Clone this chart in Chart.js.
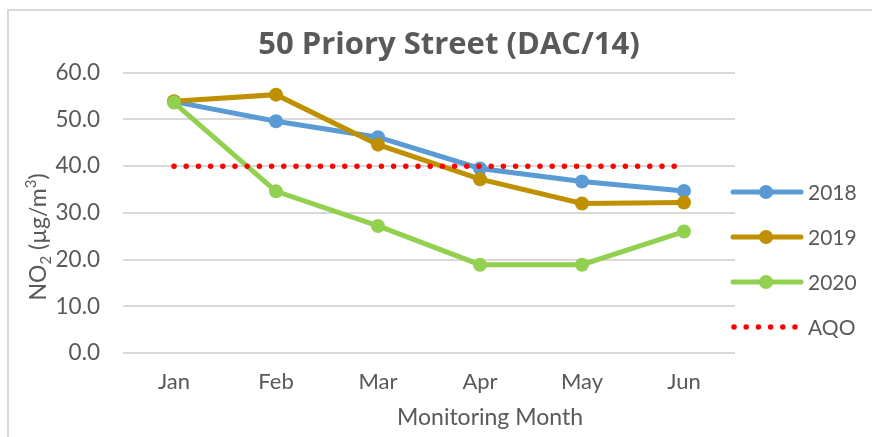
<!DOCTYPE html>
<html>
<head>
<meta charset="utf-8">
<script src="https://cdn.jsdelivr.net/npm/chart.js@4.4.0/dist/chart.umd.min.js"></script>
<style>
  html, body { margin: 0; padding: 0; background: #fff; overflow: hidden; }
  #frame { position: absolute; left: 7px; top: 9px; width: 900px; height: 500px;
           border-left: 2px solid #d9d9d9; border-top: 2px solid #d9d9d9; }
  #wrap { position: absolute; left: 0; top: 0; width: 872px; height: 437px; }
</style>
</head>
<body>
<div id="frame"></div>
<div id="wrap"><canvas id="lineChart" width="872" height="437"></canvas></div>
<script>
// Data
const months = ['Jan', 'Feb', 'Mar', 'Apr', 'May', 'Jun'];
const no2_2018 = [53.8, 49.6, 46.2, 39.5, 36.7, 34.7];
const no2_2019 = [53.9, 55.3, 44.6, 37.2, 32.0, 32.2];
const no2_2020 = [53.6, 34.6, 27.2, 18.9, 18.9, 26.0];
const aqo = [40, 40, 40, 40, 40, 40];
const yMin = 0, yMax = 60, yStep = 10;

const textColor = '#595959';
const gridColor = '#d9d9d9';
const fontName = 'Lato';

// Axis titles + legend drawn by hand (Excel style)
const extrasPlugin = {
    id: 'extras',
    afterDraw(chart) {
        const ctx = chart.ctx;
        ctx.save();
        ctx.fillStyle = textColor;

        // y axis title with sub / superscript
        ctx.translate(39, 237);
        ctx.rotate(-Math.PI / 2);
        const big = '23px ' + fontName, small = '15px ' + fontName;
        const parts = [['NO', big, 0], ['2', small, 7], [' (µg/m', big, 0], ['3', small, -8], [')', big, 0]];
        let total = 0;
        parts.forEach(p => { ctx.font = p[1]; total += ctx.measureText(p[0]).width; });
        let x = -total / 2;
        ctx.textBaseline = 'middle';
        parts.forEach(p => {
            ctx.font = p[1];
            ctx.fillText(p[0], x, p[2]);
            x += ctx.measureText(p[0]).width;
        });
        ctx.restore();

        // x axis title
        ctx.save();
        ctx.fillStyle = textColor;
        ctx.font = '23px ' + fontName;
        ctx.textAlign = 'center';
        ctx.textBaseline = 'middle';
        ctx.fillText('Monitoring Month', 490, 418);
        ctx.restore();

        // legend
        chart.data.datasets.forEach((ds, i) => {
            const y = 192 + i * 45;
            ctx.save();
            ctx.strokeStyle = ds.borderColor;
            ctx.lineWidth = ds.borderWidth;
            ctx.lineCap = 'round';
            if (ds.borderDash) ctx.setLineDash(ds.borderDash);
            ctx.beginPath();
            ctx.moveTo(ds.borderDash ? 734 : 733, y);
            ctx.lineTo(ds.borderDash ? 800 : 801, y);
            ctx.stroke();
            if (ds.pointRadius > 0) {
                ctx.fillStyle = ds.backgroundColor;
                ctx.beginPath();
                ctx.arc(766, y, ds.pointRadius, 0, Math.PI * 2);
                ctx.fill();
            }
            ctx.fillStyle = textColor;
            ctx.font = '21px ' + fontName;
            ctx.textBaseline = 'middle';
            ctx.fillText(ds.label, 808, y + 1);
            ctx.restore();
        });
    }
};

function series(label, data, color, order) {
    return {
        label: label,
        data: data,
        borderColor: color,
        backgroundColor: color,
        borderWidth: 5,
        pointRadius: 7,
        pointHoverRadius: 7,
        pointBorderWidth: 0,
        tension: 0,
        order: order
    };
}

const ctx = document.getElementById('lineChart').getContext('2d');
new Chart(ctx, {
    type: 'line',
    data: {
        labels: months,
        datasets: [
            series('2018', no2_2018, '#5b9bd5', 3),
            series('2019', no2_2019, '#bf9000', 2),
            series('2020', no2_2020, '#92d050', 1),
            {
                label: 'AQO',
                data: aqo,
                borderColor: '#ff0000',
                backgroundColor: '#ff0000',
                borderWidth: 5.5,
                borderDash: [0, 12.2],
                borderCapStyle: 'round',
                pointRadius: 0,
                order: 0
            }
        ]
    },
    options: {
        responsive: false,
        animation: false,
        layout: { padding: { left: 26, top: 0, right: 0, bottom: 0 } },
        plugins: {
            legend: { display: false },
            tooltip: { enabled: false },
            title: {
                display: true,
                text: '50 Priory Street (DAC/14)',
                color: textColor,
                font: { family: 'Open Sans', size: 31, weight: 'bold' },
                padding: { top: 27, bottom: 8.5 }
            }
        },
        scales: {
            x: {
                offset: true,
                grid: { display: false, drawTicks: false },
                border: { display: false },
                ticks: { color: textColor, font: { family: fontName, size: 22 }, padding: 16 },
                afterFit(scale) { scale.height = 84; }
            },
            y: {
                min: yMin,
                max: yMax,
                grid: { color: gridColor, lineWidth: 2, drawTicks: false },
                border: { display: false },
                ticks: {
                    stepSize: yStep,
                    color: textColor,
                    font: { family: fontName, size: 22.5 },
                    padding: 23,
                    callback: v => v.toFixed(1)
                },
                afterFit(scale) { scale.width = 97; }
            },
            yRight: {
                position: 'right',
                grid: { display: false, drawTicks: false },
                border: { display: false },
                ticks: { display: false },
                afterFit(scale) { scale.width = 137; }
            }
        }
    },
    plugins: [extrasPlugin]
});
</script>
</body>
</html>
